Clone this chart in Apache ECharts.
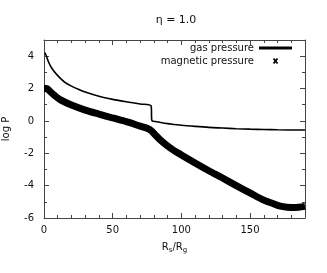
<!DOCTYPE html>
<html>
<head>
<meta charset="utf-8">
<script src="https://cdn.jsdelivr.net/npm/echarts@6/dist/echarts.min.js"></script>
<style>html,body{margin:0;padding:0;background:#fff}#c{width:327px;height:273px}</style>
</head>
<body>
<div id="c"></div>
<script>
var titleText = 'η = 1.0';
var seriesNames = ['gas pressure', 'magnetic pressure'];
var gasX = [0.5, 1, 2, 3, 5, 7, 10, 15, 20, 25, 30, 40, 50, 60, 70, 78, 78.5, 82, 85, 90, 95, 100, 110, 120, 130, 140, 150, 160, 170, 180, 190];
var gasY = [4.2, 4.15, 3.95, 3.7, 3.35, 3.1, 2.8, 2.4, 2.15, 1.95, 1.78, 1.52, 1.33, 1.18, 1.05, 0.92, 0.03, -0.05, -0.1, -0.17, -0.22, -0.27, -0.34, -0.4, -0.44, -0.48, -0.51, -0.53, -0.55, -0.56, -0.56];
var magX = [0, 2, 4, 8, 12, 20, 30, 40, 50, 60, 70, 75, 78, 82, 85, 90, 95, 100, 110, 120, 130, 140, 150, 160, 167, 172, 177, 182, 190];
var magY = [2.0, 2.0, 1.85, 1.55, 1.3, 0.98, 0.67, 0.42, 0.18, -0.05, -0.32, -0.45, -0.6, -0.95, -1.2, -1.55, -1.85, -2.1, -2.6, -3.08, -3.53, -4.0, -4.45, -4.9, -5.12, -5.27, -5.33, -5.35, -5.28];
var xTicks = [0, 50, 100, 150];
var yTicks = [-6, -4, -2, 0, 2, 4];

function zip(a, b) { return a.map(function (v, i) { return [v, b[i]]; }); }

var FONT = 'DejaVu Sans';
var AX = '#444';
var crossIcon = 'path://M0,0 M33,7 M13.8,1.6 L15.2,0.4 L19.2,5.4 L17.8,6.6 Z M13.8,5.4 L17.8,0.4 L19.2,1.6 L15.2,6.6 Z';

var chart = echarts.init(document.getElementById('c'), null, {renderer: 'canvas'});
var baseX = {
  type: 'value', min: 0, max: 190, interval: 50,
  axisLine: {show: true, onZero: false, lineStyle: {color: AX, width: 1}},
  axisTick: {show: true, inside: true, length: 5, lineStyle: {color: AX}},
  minorTick: {show: true, splitNumber: 5, length: 3, lineStyle: {color: AX}},
  splitLine: {show: false}
};
var baseY = {
  type: 'value', min: -6, max: 5, interval: 2,
  axisLine: {show: true, onZero: false, lineStyle: {color: AX, width: 1}},
  axisTick: {show: true, inside: true, length: 5, lineStyle: {color: AX}},
  minorTick: {show: true, splitNumber: 2, length: 3, lineStyle: {color: AX}},
  splitLine: {show: false}
};
chart.setOption({
  animation: false,
  backgroundColor: '#fff',
  title: {
    text: titleText, left: 171, top: 10, textAlign: 'center',
    textStyle: {fontFamily: FONT, fontSize: 11, fontWeight: 'normal', color: '#111'}
  },
  legend: [
    {
      data: [{name: seriesNames[0], icon: 'rect'}],
      right: 35, top: 43, padding: 0, align: 'right',
      itemWidth: 33, itemHeight: 3, selectedMode: false,
      textStyle: {fontFamily: FONT, fontSize: 10, color: '#111'}
    },
    {
      data: [{name: seriesNames[1], icon: crossIcon}],
      right: 35, top: 56, padding: 0, align: 'right',
      itemWidth: 33, itemHeight: 7, selectedMode: false,
      textStyle: {fontFamily: FONT, fontSize: 10, color: '#111'}
    }
  ],
  grid: {left: 44, right: 22, top: 40, bottom: 55, containLabel: false, outerBoundsMode: 'none'},
  xAxis: [
    Object.assign({}, baseX, {
      position: 'bottom',
      name: '{m|R}{s|s}{m|/R}{s|g}', nameLocation: 'middle', nameGap: 24,
      nameTextStyle: {
        fontFamily: FONT, color: '#111',
        rich: {
          m: {fontFamily: FONT, fontSize: 10, color: '#111', lineHeight: 12, verticalAlign: 'top'},
          s: {fontFamily: FONT, fontSize: 7, color: '#111', lineHeight: 9, verticalAlign: 'bottom'}
        }
      },
      axisLabel: {
        margin: 7, fontFamily: FONT, fontSize: 10, color: '#111',
        formatter: function (v) { return xTicks.indexOf(v) >= 0 ? String(v) : ''; }
      }
    }),
    Object.assign({}, baseX, {position: 'top', axisLabel: {show: false}})
  ],
  yAxis: [
    Object.assign({}, baseY, {
      position: 'left',
      name: 'log P', nameLocation: 'middle', nameGap: 33, nameRotate: 90,
      nameTextStyle: {fontFamily: FONT, fontSize: 10, color: '#111'},
      axisLabel: {
        margin: 10, fontFamily: FONT, fontSize: 10, color: '#111',
        formatter: function (v) { return yTicks.indexOf(v) >= 0 ? String(v) : ''; }
      }
    }),
    Object.assign({}, baseY, {position: 'right', axisLabel: {show: false}})
  ],
  series: [
    {
      name: seriesNames[0], type: 'line', xAxisIndex: 0, yAxisIndex: 0,
      data: zip(gasX, gasY), symbol: 'none', smooth: 0.3, clip: true,
      lineStyle: {color: '#000', width: 1.6}, itemStyle: {color: '#000'}
    },
    {
      name: seriesNames[1], type: 'line', xAxisIndex: 0, yAxisIndex: 0,
      data: zip(magX, magY), symbol: 'none', smooth: 0.3, clip: true,
      lineStyle: {color: '#000', width: 7}, itemStyle: {color: '#000'}
    }
  ]
});
</script>
</body>
</html>
